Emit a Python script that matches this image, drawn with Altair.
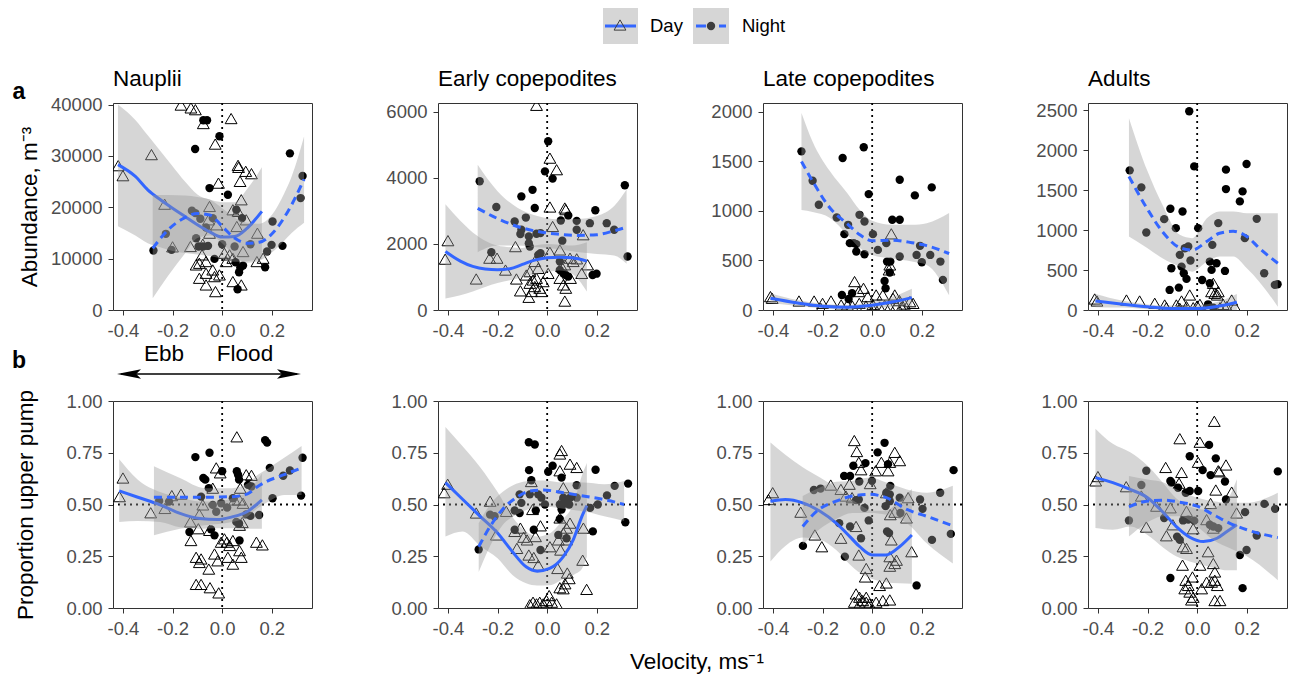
import altair as alt
import pandas as pd

FONT = "Liberation Sans"
BLUE = "#3366FF"
BAND = "#999999"
XDOM = [-0.44, 0.362]
X_TICKS = [-0.4, -0.2, 0.0, 0.2]
STAGES = ["Nauplii", "Early copepodites", "Late copepodites", "Adults"]
Y_TITLE_A = "Abundance, m⁻³"
Y_TITLE_B = "Proportion upper pump"
X_TITLE = "Velocity, ms⁻¹"
LEGEND = ["Day", "Night"]
TIDE = ["Ebb", "Flood"]
ROW_LABELS = ["a", "b"]

# ---------------- row a : abundance ----------------
A1_DAY = [(-0.419, 28100), (-0.400, 26150), (-0.285, 30250), (-0.232, 20600), (-0.200, 12300),
          (-0.166, 39900), (-0.126, 39350), (-0.108, 39000), (-0.076, 36300), (-0.028, 32300),
          (-0.015, 24700), (0.036, 37270), (0.064, 28160), (0.066, 27770), (0.095, 27000),
          (0.118, 26540), (0.072, 25040), (-0.051, 20160), (0.077, 21460), (0.043, 19510),
          (0.064, 19190), (0.097, 17560), (-0.055, 17560), (-0.022, 16590), (0.059, 16260),
          (0.142, 14960), (-0.128, 12360), (-0.078, 12810), (-0.051, 14960), (-0.092, 9100),
          (-0.065, 9430), (-0.038, 7800), (-0.065, 7150), (-0.092, 6180), (-0.031, 6500),
          (-0.011, 6830), (-0.065, 4880), (-0.027, 3580), (0.016, 9430), (0.043, 10080),
          (0.030, 10730), (0.043, 5530), (0.077, 4880), (0.084, 11380), (0.140, 9430),
          (0.165, 10080), (-0.081, 10730), (-0.105, 8780), (0.009, 11060)]
A1_NIGHT = [(-0.277, 11580), (-0.227, 14830), (-0.204, 11710), (-0.109, 31350), (-0.076, 36940),
            (-0.061, 36940), (-0.051, 23740), (-0.011, 33820), (0.023, 22440), (0.057, 19510),
            (-0.122, 19320), (-0.108, 18860), (-0.088, 17760), (-0.038, 17890), (-0.105, 13980),
            (-0.065, 16070), (-0.095, 12360), (-0.078, 12360), (-0.057, 12490), (-0.031, 9950),
            (0.000, 12810), (0.050, 12360), (0.114, 12810), (0.080, 17890), (0.054, 9300),
            (0.073, 8260), (0.084, 8650), (0.068, 7350), (0.062, 4030), (0.173, 8330),
            (0.181, 11380), (0.199, 12680), (0.203, 17240), (0.243, 12490), (0.273, 30500),
            (0.316, 21790), (0.324, 26080)]
# (velocity, fit, lower, upper)
A1_DAY_FIT = [(-0.42, 28300, 16300, 40000), (-0.35, 26000, 14500, 37000), (-0.30, 23400, 13000, 34000),
              (-0.25, 21500, 12200, 31000), (-0.20, 19800, 11500, 28000), (-0.15, 18200, 11100, 25000),
              (-0.10, 16600, 10800, 22500), (-0.05, 15200, 10500, 21500), (0.00, 14200, 10000, 21000),
              (0.05, 14300, 9400, 21000), (0.10, 15900, 9500, 23500), (0.16, 19200, 10000, 27800)]
A1_NIGHT_FIT = [(-0.28, 12000, 2300, 22400), (-0.22, 15500, 6500, 22400), (-0.15, 18000, 11000, 22300),
                (-0.10, 18800, 14000, 22000), (-0.05, 18500, 14500, 21500), (0.00, 16300, 13000, 19800),
                (0.05, 14000, 10500, 18000), (0.10, 13000, 9200, 17000), (0.15, 13200, 9600, 16800),
                (0.20, 14800, 11200, 18500), (0.25, 18000, 13500, 22700), (0.28, 20500, 15000, 26000),
                (0.33, 25500, 17000, 33800)]

A2_DAY = [(-0.411, 1540), (-0.400, 2100), (-0.286, 940), (-0.232, 1570), (-0.202, 1570),
          (-0.168, 1210), (-0.128, 1920), (-0.124, 940), (-0.108, 580), (-0.074, 385),
          (-0.043, 6200), (0.011, 4600), (0.038, 4250), (0.011, 3120), (0.071, 3090),
          (0.075, 3040), (0.022, 2530), (0.145, 2280), (0.011, 1750), (0.051, 1820),
          (0.071, 1370), (0.092, 1570), (0.119, 1550), (0.139, 1110), (0.163, 1370),
          (-0.050, 1470), (-0.036, 1260), (-0.070, 1160), (-0.057, 910), (-0.043, 960),
          (-0.016, 860), (-0.070, 810), (-0.030, 660), (-0.050, 710), (-0.023, 560),
          (-0.063, 560), (0.004, 1110), (0.051, 960), (0.065, 760), (0.075, 660),
          (0.094, 960), (0.071, 270), (0.058, 1320), (0.105, 1470), (-0.084, 1060)]
A2_NIGHT = [(-0.272, 3900), (-0.205, 3120), (-0.225, 1750), (-0.104, 3440), (-0.059, 3640),
            (-0.050, 3090), (-0.009, 4200), (0.004, 5110), (0.022, 3980), (-0.131, 2680),
            (-0.086, 2800), (-0.108, 2300), (-0.104, 2430), (-0.074, 2230), (-0.043, 2310),
            (-0.027, 2330), (-0.074, 2020), (-0.070, 1920), (-0.036, 1670), (-0.027, 1720),
            (0.055, 2710), (0.085, 2860), (0.061, 2100), (0.119, 2700), (0.119, 2430),
            (0.172, 2630), (0.194, 3020), (0.240, 2630), (0.270, 2430), (0.313, 3780),
            (0.324, 1620), (0.183, 1060), (0.199, 1100), (0.051, 1210), (0.065, 1110),
            (0.075, 1060), (0.085, 1010), (0.051, 1470)]
A2_DAY_FIT = [(-0.41, 1770, 350, 3200), (-0.35, 1480, 450, 2700), (-0.30, 1320, 560, 2350),
              (-0.25, 1240, 700, 2100), (-0.20, 1220, 820, 1950), (-0.15, 1250, 900, 1900),
              (-0.10, 1380, 1000, 1880), (-0.05, 1510, 1080, 1950), (0.00, 1580, 1150, 2000),
              (0.05, 1600, 1200, 1980), (0.10, 1580, 1100, 1950), (0.16, 1480, 560, 2050)]
A2_NIGHT_FIT = [(-0.28, 3080, 1750, 4400), (-0.20, 2770, 1950, 3600), (-0.12, 2530, 1950, 3100),
                (-0.04, 2380, 1900, 2850), (0.04, 2300, 1850, 2750), (0.12, 2260, 1760, 2760),
                (0.20, 2280, 1700, 2850), (0.27, 2400, 1650, 3150), (0.32, 2510, 1400, 3650)]

A3_DAY = [(-0.410, 135), (-0.403, 118), (-0.295, 91), (-0.234, 91), (-0.200, 67),
          (-0.166, 91), (-0.125, 51), (-0.071, 287), (-0.054, 186), (-0.035, 219),
          (-0.018, 135), (0.016, 152), (0.077, 769), (0.084, 118), (0.068, 405),
          (0.071, 455), (0.091, 152), (0.152, 84), (0.165, 67), (-0.100, 50),
          (-0.080, 40), (-0.052, 67), (-0.025, 40), (0.003, 55), (0.030, 30),
          (0.050, 45), (0.071, 30), (0.098, 45), (0.118, 30), (-0.207, 17),
          (0.003, 10), (0.043, 152), (0.110, 95), (0.130, 60)]
A3_NIGHT = [(-0.285, 1602), (-0.240, 1305), (-0.215, 1063), (-0.143, 934), (-0.119, 1535),
            (-0.097, 860), (-0.112, 766), (-0.090, 675), (-0.074, 675), (-0.064, 665),
            (-0.051, 961), (-0.031, 894), (-0.034, 1643), (-0.014, 1170), (-0.031, 563),
            (-0.064, 590), (0.003, 766), (0.023, 607), (0.057, 675), (0.081, 911),
            (0.111, 911), (0.111, 1315), (0.111, 540), (0.172, 1157), (0.179, 556),
            (0.240, 1238), (0.193, 648), (0.200, 482), (0.234, 556), (0.275, 489),
            (0.285, 304), (0.071, 378), (0.073, 489), (0.060, 489), (0.050, 293),
            (0.054, 219), (-0.122, 152), (-0.081, 169), (-0.095, 111)]
A3_DAY_FIT = [(-0.41, 118, 70, 170), (-0.30, 70, 40, 100), (-0.20, 38, 15, 62), (-0.10, 28, 5, 50),
              (0.00, 48, 20, 80), (0.08, 80, 30, 130), (0.16, 125, 40, 215)]
A3_NIGHT_FIT = [(-0.285, 1500, 1010, 1990), (-0.24, 1300, 990, 1700), (-0.17, 1030, 930, 1400),
                (-0.10, 870, 760, 1180), (-0.05, 760, 625, 1010), (0.00, 700, 556, 900),
                (0.08, 705, 520, 860), (0.16, 680, 490, 860), (0.22, 650, 455, 877),
                (0.31, 570, 150, 980)]

A4_DAY = [(-0.413, 138), (-0.404, 113), (-0.285, 125), (-0.232, 113), (-0.171, 84),
          (-0.131, 63), (-0.084, 63), (-0.063, 113), (-0.030, 188), (0.011, 71),
          (0.058, 230), (0.071, 209), (0.085, 230), (0.065, 334), (0.081, 188),
          (0.139, 125), (0.152, 42), (-0.043, 42), (-0.016, 29), (0.038, 42),
          (0.092, 29), (0.119, 42), (-0.124, 29), (-0.070, 21), (0.000, 50), (0.105, 70)]
A4_NIGHT = [(-0.272, 1747), (-0.225, 1534), (-0.205, 970), (-0.133, 1137), (-0.108, 1267),
            (-0.086, 1024), (-0.059, 1233), (-0.032, 2487), (-0.012, 1797), (0.004, 1024),
            (-0.104, 522), (-0.070, 690), (-0.050, 773), (-0.036, 794), (-0.027, 619),
            (-0.111, 251), (-0.074, 280), (-0.063, 543), (-0.054, 460), (-0.043, 389),
            (0.020, 376), (0.051, 334), (0.061, 815), (0.051, 606), (0.058, 502),
            (0.078, 585), (0.085, 1087), (0.116, 1756), (0.116, 1513), (0.112, 489),
            (0.172, 1359), (0.183, 1484), (0.199, 1827), (0.192, 899), (0.240, 1141),
            (0.270, 460), (0.313, 314), (0.324, 322), (0.044, 71), (0.065, 29)]
A4_DAY_FIT = [(-0.41, 113, 35, 200), (-0.30, 72, 30, 115), (-0.20, 40, 10, 70), (-0.10, 20, 0, 55),
              (0.00, 20, 0, 60), (0.08, 45, 0, 100), (0.16, 98, 0, 200)]
A4_NIGHT_FIT = [(-0.275, 1670, 920, 2400), (-0.20, 1260, 773, 1735), (-0.14, 980, 648, 1317),
                (-0.07, 780, 543, 940), (-0.02, 750, 480, 899), (0.04, 860, 606, 1150),
                (0.09, 960, 669, 1233), (0.145, 985, 669, 1233), (0.20, 920, 522, 1212),
                (0.25, 775, 355, 1212), (0.325, 585, 42, 1212)]

# ---------------- row b : proportion upper pump ----------------
B1_DAY = [(-0.414, 0.538), (-0.400, 0.628), (-0.288, 0.460), (-0.231, 0.481), (-0.203, 0.543),
          (-0.166, 0.550), (-0.128, 0.416), (-0.126, 0.326), (-0.096, 0.383), (-0.092, 0.452),
          (-0.078, 0.498), (-0.105, 0.245), (-0.085, 0.237), (-0.092, 0.220), (-0.054, 0.188),
          (-0.105, 0.114), (-0.085, 0.114), (-0.049, 0.098), (-0.014, 0.073), (-0.031, 0.261),
          (-0.018, 0.228), (-0.024, 0.677), (-0.038, 0.579), (-0.008, 0.653), (0.019, 0.318),
          (0.030, 0.302), (0.043, 0.326), (0.023, 0.245), (0.043, 0.212), (0.070, 0.277),
          (0.077, 0.245), (0.059, 0.827), (0.097, 0.644), (0.118, 0.641), (0.073, 0.579),
          (0.050, 0.522), (0.070, 0.522), (0.084, 0.506), (0.138, 0.318), (0.162, 0.305),
          (0.009, 0.334), (-0.004, 0.318), (0.070, 0.400), (0.081, 0.413), (-0.051, 0.375)]
B1_NIGHT = [(-0.132, 0.367), (-0.108, 0.729), (-0.051, 0.750), (-0.076, 0.628), (-0.068, 0.620),
            (-0.085, 0.538), (-0.054, 0.579), (-0.038, 0.498), (0.000, 0.661), (-0.031, 0.351),
            (-0.045, 0.380), (0.059, 0.661), (0.064, 0.644), (0.068, 0.620), (0.070, 0.326),
            (0.043, 0.530), (0.020, 0.485), (-0.004, 0.506), (-0.024, 0.465), (0.057, 0.416),
            (0.068, 0.408), (0.097, 0.452), (0.114, 0.445), (0.104, 0.595), (0.118, 0.587),
            (0.149, 0.449), (0.173, 0.811), (0.181, 0.799), (0.192, 0.677), (0.203, 0.530),
            (0.246, 0.639), (0.273, 0.664), (0.318, 0.543), (0.324, 0.726), (-0.214, 0.514),
            (-0.254, 0.517)]
B1_DAY_FIT = [(-0.415, 0.566, 0.416, 0.718), (-0.34, 0.535, 0.420, 0.620), (-0.25, 0.498, 0.416, 0.560),
              (-0.17, 0.457, 0.390, 0.535), (-0.09, 0.432, 0.383, 0.515), (-0.02, 0.427, 0.385, 0.515),
              (0.04, 0.440, 0.385, 0.530), (0.10, 0.465, 0.383, 0.560), (0.16, 0.522, 0.383, 0.650)]
B1_NIGHT_FIT = [(-0.275, 0.535, 0.351, 0.685), (-0.17, 0.535, 0.383, 0.628), (-0.07, 0.535, 0.400, 0.579),
                (0.04, 0.538, 0.416, 0.579), (0.10, 0.550, 0.440, 0.600), (0.14, 0.585, 0.480, 0.640),
                (0.18, 0.612, 0.510, 0.670), (0.25, 0.644, 0.546, 0.726), (0.32, 0.677, 0.546, 0.783)]

B2_DAY = [(-0.415, 0.557), (-0.401, 0.598), (-0.286, 0.459), (-0.230, 0.516), (-0.165, 0.467),
          (-0.205, 0.353), (-0.131, 0.370), (-0.108, 0.386), (-0.095, 0.342), (-0.122, 0.288),
          (-0.074, 0.256), (-0.054, 0.244), (-0.036, 0.207), (-0.064, 0.611), (-0.059, 0.476),
          (-0.027, 0.397), (-0.047, 0.345), (0.011, 0.296), (0.042, 0.191), (0.058, 0.761),
          (0.051, 0.744), (0.092, 0.695), (0.119, 0.679), (0.051, 0.663), (0.065, 0.581),
          (0.061, 0.524), (0.051, 0.435), (0.078, 0.386), (0.092, 0.410), (0.065, 0.362),
          (0.078, 0.329), (0.045, 0.329), (0.054, 0.280), (0.146, 0.386), (0.143, 0.231),
          (0.159, 0.090), (0.081, 0.169), (0.089, 0.142), (0.072, 0.117), (0.065, 0.093),
          (0.051, 0.098), (0.008, 0.060), (-0.070, 0.016), (-0.057, 0.028), (-0.043, 0.020),
          (-0.030, 0.028), (-0.016, 0.020), (-0.003, 0.036), (0.018, 0.028), (0.038, 0.020),
          (-0.081, 0.329)]
B2_NIGHT = [(-0.276, 0.283), (-0.230, 0.451), (-0.212, 0.443), (-0.131, 0.378), (-0.131, 0.471),
            (-0.111, 0.459), (-0.111, 0.549), (-0.070, 0.549), (-0.104, 0.508), (-0.074, 0.801),
            (-0.050, 0.790), (-0.073, 0.666), (-0.064, 0.617), (-0.036, 0.549), (-0.023, 0.533),
            (-0.054, 0.378), (-0.046, 0.471), (-0.027, 0.280), (-0.009, 0.500), (0.004, 0.658),
            (0.022, 0.687), (0.058, 0.630), (0.051, 0.500), (0.072, 0.505), (0.058, 0.476),
            (0.051, 0.430), (0.065, 0.533), (0.092, 0.533), (0.119, 0.593), (0.119, 0.533),
            (0.089, 0.500), (0.045, 0.353), (0.078, 0.337), (0.173, 0.484), (0.195, 0.668),
            (0.184, 0.370), (0.204, 0.500), (0.241, 0.544), (0.272, 0.590), (0.326, 0.601),
            (0.315, 0.414)]
B2_DAY_FIT = [(-0.41, 0.606, 0.345, 0.875), (-0.34, 0.524, 0.370, 0.780), (-0.27, 0.443, 0.300, 0.680),
              (-0.20, 0.362, 0.240, 0.560), (-0.14, 0.272, 0.160, 0.440), (-0.085, 0.199, 0.120, 0.370),
              (-0.04, 0.178, 0.109, 0.345), (0.01, 0.191, 0.110, 0.360), (0.065, 0.248, 0.140, 0.430),
              (0.105, 0.329, 0.160, 0.500), (0.14, 0.443, 0.190, 0.640), (0.16, 0.495, 0.248, 0.700)]
B2_NIGHT_FIT = [(-0.276, 0.296, 0.174, 0.410), (-0.23, 0.394, 0.300, 0.500), (-0.18, 0.476, 0.400, 0.560),
                (-0.125, 0.533, 0.450, 0.600), (-0.07, 0.565, 0.480, 0.614), (-0.015, 0.570, 0.490, 0.616),
                (0.065, 0.557, 0.480, 0.606), (0.145, 0.541, 0.467, 0.606), (0.23, 0.524, 0.443, 0.598),
                (0.31, 0.500, 0.420, 0.614)]

B3_DAY = [(-0.418, 0.524), (-0.401, 0.557), (-0.288, 0.463), (-0.231, 0.353), (-0.203, 0.296),
          (-0.167, 0.594), (-0.126, 0.573), (-0.126, 0.337), (-0.106, 0.541), (-0.092, 0.598),
          (-0.065, 0.394), (-0.072, 0.809), (-0.062, 0.756), (-0.054, 0.704), (-0.045, 0.668),
          (-0.081, 0.533), (-0.054, 0.256), (-0.024, 0.191), (-0.028, 0.150), (-0.008, 0.601),
          (0.014, 0.663), (0.037, 0.704), (0.071, 0.704), (0.091, 0.752), (0.111, 0.712),
          (0.064, 0.663), (0.057, 0.557), (0.073, 0.451), (0.091, 0.463), (0.077, 0.329),
          (0.071, 0.248), (0.091, 0.215), (0.098, 0.231), (0.071, 0.202), (0.030, 0.109),
          (0.057, 0.121), (0.138, 0.435), (0.145, 0.533), (0.159, 0.272), (-0.065, 0.068),
          (-0.051, 0.052), (-0.038, 0.036), (-0.024, 0.028), (-0.011, 0.020), (0.016, 0.028),
          (0.043, 0.036), (0.071, 0.039), (-0.072, 0.028), (-0.051, 0.020), (-0.024, 0.052)]
B3_NIGHT = [(-0.279, 0.300), (-0.235, 0.570), (-0.208, 0.577), (-0.133, 0.410), (-0.110, 0.248),
            (-0.089, 0.394), (-0.045, 0.337), (-0.113, 0.638), (-0.089, 0.638), (-0.076, 0.687),
            (-0.052, 0.611), (-0.027, 0.700), (-0.065, 0.521), (-0.054, 0.524), (-0.031, 0.484),
            (-0.014, 0.423), (-0.001, 0.614), (0.022, 0.752), (0.050, 0.798), (0.064, 0.695),
            (0.057, 0.557), (0.071, 0.549), (0.054, 0.492), (0.071, 0.516), (0.060, 0.370),
            (0.068, 0.362), (0.073, 0.590), (0.111, 0.533), (0.114, 0.459), (0.179, 0.109),
            (0.193, 0.524), (0.203, 0.479), (0.241, 0.329), (0.274, 0.557), (0.317, 0.358),
            (0.328, 0.666)]
B3_DAY_FIT = [(-0.41, 0.516, 0.225, 0.800), (-0.35, 0.524, 0.300, 0.740), (-0.28, 0.508, 0.340, 0.680),
              (-0.21, 0.467, 0.330, 0.630), (-0.145, 0.410, 0.280, 0.580), (-0.09, 0.345, 0.210, 0.530),
              (-0.05, 0.296, 0.170, 0.500), (0.00, 0.256, 0.140, 0.470), (0.055, 0.256, 0.125, 0.470),
              (0.11, 0.296, 0.120, 0.520), (0.16, 0.353, 0.117, 0.575)]
B3_NIGHT_FIT = [(-0.28, 0.394, 0.305, 0.541), (-0.215, 0.476, 0.378, 0.580), (-0.145, 0.516, 0.430, 0.610),
                (-0.08, 0.541, 0.459, 0.614), (-0.01, 0.549, 0.459, 0.630), (0.057, 0.533, 0.450, 0.606),
                (0.14, 0.476, 0.410, 0.573), (0.22, 0.443, 0.313, 0.557), (0.325, 0.397, 0.215, 0.590)]

B4_DAY = [(-0.409, 0.614), (-0.400, 0.635), (-0.286, 0.586), (-0.205, 0.391), (-0.225, 0.541),
          (-0.164, 0.492), (-0.127, 0.679), (-0.124, 0.349), (-0.108, 0.484), (-0.098, 0.402),
          (-0.073, 0.603), (-0.063, 0.655), (-0.070, 0.818), (-0.057, 0.296), (-0.043, 0.288),
          (-0.059, 0.207), (-0.043, 0.467), (-0.016, 0.383), (-0.019, 0.150), (-0.046, 0.134),
          (-0.036, 0.109), (-0.030, 0.077), (-0.016, 0.052), (0.011, 0.801), (0.004, 0.704),
          (0.011, 0.207), (0.018, 0.093), (0.038, 0.427), (0.044, 0.272), (0.054, 0.505),
          (0.065, 0.386), (0.069, 0.902), (0.065, 0.215), (0.071, 0.174), (0.038, 0.125),
          (0.058, 0.125), (0.071, 0.134), (0.081, 0.109), (0.071, 0.036), (0.092, 0.036),
          (0.075, 0.570), (0.085, 0.663), (0.089, 0.658), (0.116, 0.691), (0.139, 0.560),
          (0.159, 0.459), (-0.050, 0.093), (-0.023, 0.039)]
B4_NIGHT = [(-0.275, 0.423), (-0.225, 0.594), (-0.205, 0.663), (-0.133, 0.435), (-0.108, 0.145),
            (-0.104, 0.606), (-0.108, 0.614), (-0.077, 0.581), (-0.030, 0.733), (0.004, 0.565),
            (-0.046, 0.557), (-0.030, 0.565), (-0.081, 0.345), (-0.070, 0.329), (-0.057, 0.423),
            (-0.036, 0.427), (-0.012, 0.422), (0.022, 0.666), (0.048, 0.788), (0.054, 0.642),
            (0.075, 0.723), (0.112, 0.611), (0.116, 0.524), (0.051, 0.402), (0.065, 0.394),
            (0.085, 0.386), (0.172, 0.256), (0.193, 0.463), (0.199, 0.280), (0.183, 0.096),
            (0.240, 0.350), (0.271, 0.503), (0.314, 0.479), (0.325, 0.660)]
B4_DAY_FIT = [(-0.41, 0.630, 0.386, 0.866), (-0.34, 0.606, 0.378, 0.793), (-0.27, 0.573, 0.394, 0.752),
              (-0.20, 0.533, 0.353, 0.687), (-0.135, 0.459, 0.290, 0.600), (-0.085, 0.394, 0.250, 0.530),
              (-0.03, 0.342, 0.225, 0.490), (0.025, 0.321, 0.207, 0.476), (0.08, 0.337, 0.190, 0.490),
              (0.12, 0.370, 0.182, 0.520), (0.16, 0.402, 0.182, 0.622)]
B4_NIGHT_FIT = [(-0.275, 0.489, 0.345, 0.638), (-0.205, 0.516, 0.410, 0.622), (-0.135, 0.521, 0.443, 0.606),
                (-0.07, 0.511, 0.443, 0.565), (0.00, 0.492, 0.394, 0.533), (0.065, 0.451, 0.329, 0.516),
                (0.13, 0.410, 0.290, 0.508), (0.20, 0.378, 0.250, 0.508), (0.325, 0.340, 0.134, 0.557)]

ROW_A = [(A1_DAY, A1_NIGHT, A1_DAY_FIT, A1_NIGHT_FIT, [0, 40300], [0, 10000, 20000, 30000, 40000]),
         (A2_DAY, A2_NIGHT, A2_DAY_FIT, A2_NIGHT_FIT, [0, 6270], [0, 2000, 4000, 6000]),
         (A3_DAY, A3_NIGHT, A3_DAY_FIT, A3_NIGHT_FIT, [0, 2090], [0, 500, 1000, 1500, 2000]),
         (A4_DAY, A4_NIGHT, A4_DAY_FIT, A4_NIGHT_FIT, [0, 2590], [0, 500, 1000, 1500, 2000, 2500])]
ROW_B = [(B1_DAY, B1_NIGHT, B1_DAY_FIT, B1_NIGHT_FIT, [0, 1.0], [0, 0.25, 0.5, 0.75, 1.0]),
         (B2_DAY, B2_NIGHT, B2_DAY_FIT, B2_NIGHT_FIT, [0, 1.0], [0, 0.25, 0.5, 0.75, 1.0]),
         (B3_DAY, B3_NIGHT, B3_DAY_FIT, B3_NIGHT_FIT, [0, 1.0], [0, 0.25, 0.5, 0.75, 1.0]),
         (B4_DAY, B4_NIGHT, B4_DAY_FIT, B4_NIGHT_FIT, [0, 1.0], [0, 0.25, 0.5, 0.75, 1.0])]

W, H = 199, 207
ONE = pd.DataFrame({"k": [0]})
XLAB = "datum.value < 0 ? '-' + format(-datum.value, '.1f') : format(datum.value, '.1f')"
ARROW_L = "M-1,0L1,-0.4L0.6,0L1,0.4Z"
ARROW_R = "M1,0L-1,-0.4L-0.6,0L-1,0.4Z"


def txt(s, x, y, size, weight="normal", align="left", baseline="alphabetic"):
    return alt.Chart(ONE).mark_text(text=s, font=FONT, fontSize=size, fontWeight=weight, align=align,
                                    baseline=baseline, color="black").encode(x=alt.value(x), y=alt.value(y))


def panel(spec, yfmt, ytitle, ypad, hline, extras):
    day, night, dfit, nfit, ydom, yticks = spec
    xe = alt.X("v:Q", scale=alt.Scale(domain=XDOM, nice=False, zero=False),
               axis=alt.Axis(values=X_TICKS, labelExpr=XLAB), title=None)

    def ye(field):
        return alt.Y(f"{field}:Q", scale=alt.Scale(domain=ydom, nice=False, zero=False),
                     axis=alt.Axis(values=yticks, format=yfmt, titlePadding=ypad),
                     title=ytitle)

    dday = pd.DataFrame(day, columns=["v", "y"])
    dnight = pd.DataFrame(night, columns=["v", "y"])
    fday = pd.DataFrame(dfit, columns=["v", "fit", "lo", "hi"])
    fnight = pd.DataFrame(nfit, columns=["v", "fit", "lo", "hi"])

    layers = [alt.Chart(pd.DataFrame({"v": [0.0]})).mark_rule(color="black", strokeDash=[2, 4], strokeWidth=1.8)
              .encode(x=xe)]
    if hline:
        layers.append(alt.Chart(pd.DataFrame({"y": [0.5]})).mark_rule(color="black", strokeDash=[2, 4],
                                                                       strokeWidth=1.8).encode(y=ye("y")))
    layers += [
        alt.Chart(dday).mark_point(shape="triangle-up", filled=False, color="black", strokeWidth=1,
                                   size=140, opacity=1, clip=True).encode(x=xe, y=ye("y")),
        alt.Chart(dnight).mark_circle(color="black", size=70, opacity=1, clip=True).encode(x=xe, y=ye("y")),
        alt.Chart(fday).mark_area(color=BAND, opacity=0.4, interpolate="monotone", clip=True)
        .encode(x=xe, y=ye("lo"), y2=alt.Y2("hi")),
        alt.Chart(fday).mark_line(color=BLUE, strokeWidth=3, interpolate="monotone", clip=True)
        .encode(x=xe, y=ye("fit")),
        alt.Chart(fnight).mark_area(color=BAND, opacity=0.4, interpolate="monotone", clip=True)
        .encode(x=xe, y=ye("lo"), y2=alt.Y2("hi")),
        alt.Chart(fnight).mark_line(color=BLUE, strokeWidth=3, strokeDash=[8, 5], interpolate="monotone",
                                    clip=True).encode(x=xe, y=ye("fit")),
    ]
    layers += list(extras)
    return alt.layer(*layers).properties(width=W, height=H)


panels = []
for i, spec in enumerate(ROW_A):
    extras = [txt(STAGES[i], 0, -17, 22.5)]
    if i == 0:
        extras += [
            txt(ROW_LABELS[0], -94, -4, 23, weight="bold", align="center"),
            txt(TIDE[0], 51, 258, 22.5, align="center"),
            txt(TIDE[1], 132, 258, 22.5, align="center"),
            alt.Chart(ONE).mark_rule(color="black", strokeWidth=1.5)
            .encode(x=alt.value(8), x2=alt.value(184), y=alt.value(271)),
            alt.Chart(ONE).mark_point(shape=ARROW_L, filled=True, color="black", size=576, opacity=1)
            .encode(x=alt.value(16), y=alt.value(271)),
            alt.Chart(ONE).mark_point(shape=ARROW_R, filled=True, color="black", size=576, opacity=1)
            .encode(x=alt.value(176), y=alt.value(271)),
        ]
    if i == 1:
        extras += [
            alt.Chart(ONE).mark_rect(color="#d6d6d6")
            .encode(x=alt.value(165), x2=alt.value(200), y=alt.value(-95), y2=alt.value(-59)),
            alt.Chart(ONE).mark_rect(color="#d6d6d6")
            .encode(x=alt.value(255), x2=alt.value(291), y=alt.value(-95), y2=alt.value(-59)),
            alt.Chart(ONE).mark_rule(color=BLUE, strokeWidth=3)
            .encode(x=alt.value(167), x2=alt.value(198), y=alt.value(-77)),
            alt.Chart(ONE).mark_rule(color=BLUE, strokeWidth=3)
            .encode(x=alt.value(258), x2=alt.value(268), y=alt.value(-77)),
            alt.Chart(ONE).mark_rule(color=BLUE, strokeWidth=3)
            .encode(x=alt.value(281), x2=alt.value(288), y=alt.value(-77)),
            alt.Chart(ONE).mark_point(shape="triangle-up", filled=False, color="#3d3d3d", strokeWidth=1,
                                      size=140, opacity=1).encode(x=alt.value(182), y=alt.value(-78)),
            alt.Chart(ONE).mark_circle(color="#3d3d3d", size=70, opacity=1)
            .encode(x=alt.value(273), y=alt.value(-77)),
            txt(LEGEND[0], 212, -77, 18.5, baseline="middle"),
            txt(LEGEND[1], 304, -77, 18.5, baseline="middle"),
        ]
    panels.append(panel(spec, "d", Y_TITLE_A if i == 0 else None, 9, False, extras))

for i, spec in enumerate(ROW_B):
    extras = []
    if i == 0:
        extras += [txt(ROW_LABELS[1], -94, -33, 23, weight="bold", align="center")]
    if i == 1:
        extras += [txt(X_TITLE, 259, 261, 22.5, align="center", baseline="middle")]
    panels.append(panel(spec, ".2f", Y_TITLE_B if i == 0 else None, 28, True, extras))

chart = alt.concat(*panels, columns=4, spacing={"row": 91, "column": 126}, bounds="flush").properties(
    padding={"left": 11, "top": 7, "right": 1, "bottom": 2},
    background="white",
).configure_view(
    stroke="#333333", strokeWidth=1
).configure_axis(
    domain=False, grid=False, tickColor="#333333", tickSize=5, tickWidth=1,
    labelColor="#4d4d4d", labelFont=FONT, labelFontSize=18.5, labelPadding=6,
    titleFont=FONT, titleFontSize=22.5, titleFontWeight="normal", titleColor="black",
)

chart.save("out.html", embed_options={"renderer": "svg", "actions": False})
